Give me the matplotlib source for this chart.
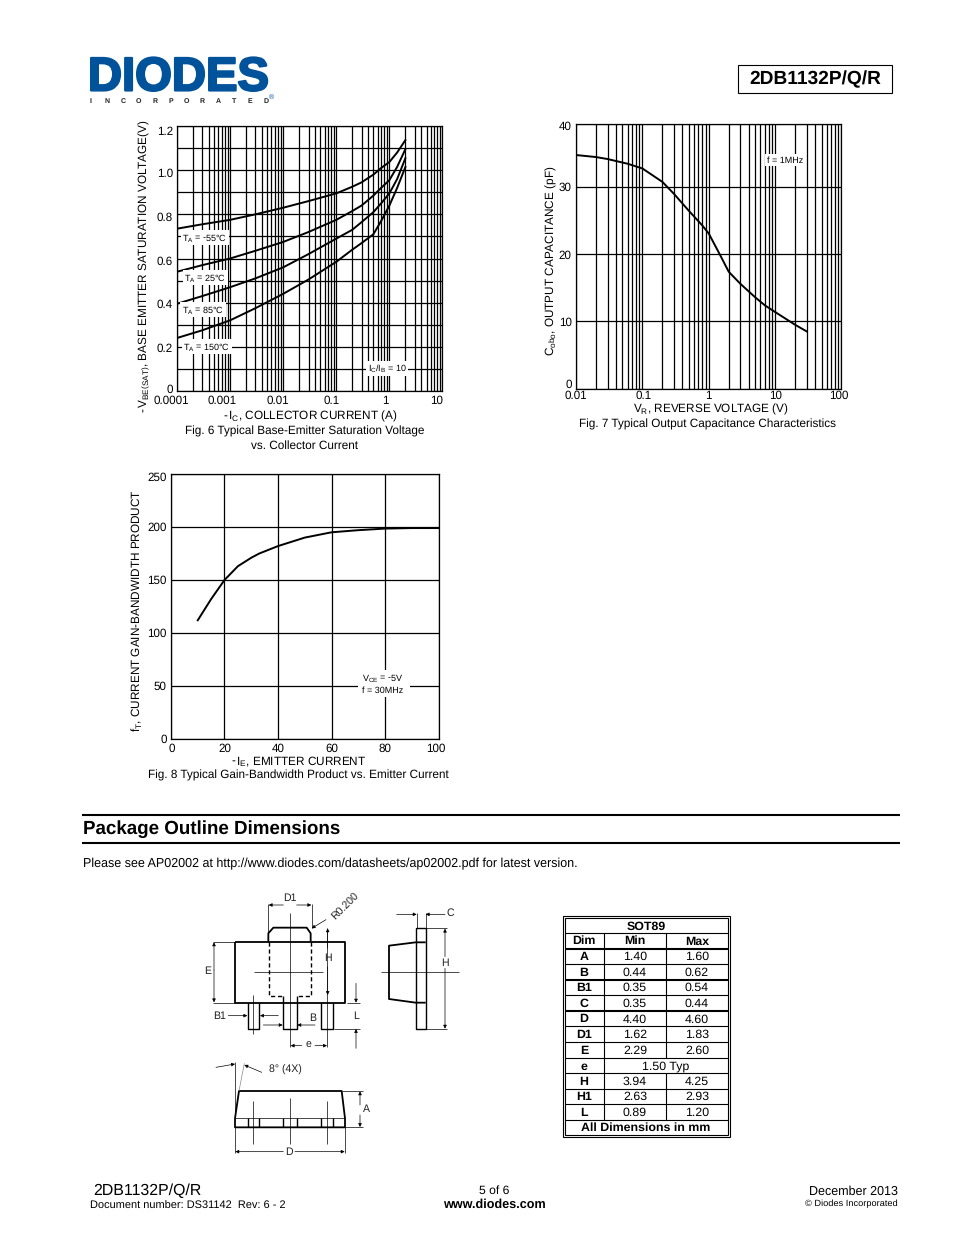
import matplotlib
matplotlib.use('Agg')
import matplotlib.pyplot as plt
import matplotlib.patheffects as pe
from matplotlib.transforms import ScaledTranslation

plt.rcParams['font.family'] = ['Liberation Sans', 'DejaVu Sans']
plt.rcParams['mathtext.fontset'] = 'custom'
plt.rcParams['mathtext.rm'] = 'Liberation Sans'
plt.rcParams['mathtext.it'] = 'Liberation Sans:italic'
plt.rcParams['mathtext.bf'] = 'Liberation Sans:bold'
plt.rcParams['mathtext.default'] = 'regular'
plt.rcParams['text.hinting'] = 'none'

W, H = 954, 1235

# Fig. 6 data
ic = [0.0001, 0.0003, 0.001, 0.003, 0.01, 0.03, 0.1, 0.2, 0.3, 0.5, 0.7, 1, 1.4, 2]
vbe_m55 = [0.735, 0.755, 0.775, 0.80, 0.83, 0.86, 0.895, 0.925, 0.945, 0.98, 1.01, 1.037, 1.08, 1.136]
vbe_25 = [0.54, 0.57, 0.60, 0.635, 0.675, 0.72, 0.775, 0.815, 0.84, 0.885, 0.92, 0.955, 1.015, 1.095]
vbe_85 = [0.395, 0.43, 0.47, 0.51, 0.56, 0.62, 0.69, 0.73, 0.765, 0.81, 0.85, 0.895, 0.96, 1.054]
vbe_150 = [0.24, 0.275, 0.32, 0.375, 0.44, 0.505, 0.585, 0.64, 0.67, 0.71, 0.77, 0.84, 0.92, 1.014]

# Fig. 7 data
vr = [0.01, 0.02, 0.03, 0.06, 0.1, 0.2, 0.3, 0.5, 0.8, 1, 1.5, 2, 3, 5, 7, 10, 20, 30]
cobo = [34.8, 34.5, 34.2, 33.5, 32.8, 30.8, 29, 26.5, 24.3, 23.1, 19.8, 17.4, 15.6, 13.6, 12.4, 11.4, 9.5, 8.5]

# Fig. 8 data
ie = [10, 15, 20, 25, 30, 33, 40, 50, 60, 70, 80, 90, 100]
ft = [112, 132, 150, 163, 171, 175, 182, 190, 195, 197, 198.5, 199, 199]

# SOT89 table
dims = ['A', 'B', 'B1', 'C', 'D', 'D1', 'E', 'e', 'H', 'H1', 'L']
mins = ['1.40', '0.44', '0.35', '0.35', '4.40', '1.62', '2.29', '', '3.94', '2.63', '0.89']
maxs = ['1.60', '0.62', '0.54', '0.44', '4.60', '1.83', '2.60', '', '4.25', '2.93', '1.20']

fig = plt.figure(figsize=(W / 100, H / 100), dpi=100, facecolor='white')


def make_axes(x0, y0, x1, y1):
    ax = fig.add_axes([x0 / W, 1 - y1 / H, (x1 - x0) / W, (y1 - y0) / H])
    for s in ax.spines.values():
        s.set_linewidth(0.9)
    ax.tick_params(which='both', length=0, labelsize=8.4, pad=3)
    ax.set_axisbelow(True)
    return ax


def shift_labels(labels, offs):
    # tick labels in the original sit a few pixels off their gridlines
    for lab, (dx, dy) in zip(labels, offs):
        lab.set_transform(lab.get_transform() + ScaledTranslation(dx / 100, dy / 100, fig.dpi_scale_trans))


# Fig. 6
ax1 = make_axes(177, 126, 442.5, 391)
ax1.set_xscale('log')
ax1.set_xlim(0.0001, 10)
ax1.set_ylim(0, 1.2)
ax1.set_xticks([0.0001, 0.001, 0.01, 0.1, 1, 10])
ax1.set_xticklabels(['0.0001', '0.001', '0.01', '0.1', '1', '10'])
ax1.set_xticks([m * 10.0 ** e for e in range(-4, 1) for m in range(2, 10)], minor=True)
ax1.set_xticklabels([], minor=True)
ax1.set_yticks([0, 0.2, 0.4, 0.6, 0.8, 1.0, 1.2])
ax1.set_yticklabels(['0', '0.2', '0.4', '0.6', '0.8', '1.0', '1.2'])
ax1.set_yticks([0.1, 0.3, 0.5, 0.7, 0.9, 1.1], minor=True)
ax1.grid(which='both', color='black', lw=0.9)
for v in (vbe_m55, vbe_25, vbe_85, vbe_150):
    ax1.plot(ic, v, color='black', lw=1.4)
shift_labels(ax1.get_xticklabels(), [(-6, 0), (-8, 0), (-5, 0), (-5, 0), (-4, 0), (-6, 0)])
shift_labels(ax1.get_yticklabels(), [(0, 2), (0, -1), (0, -1), (0, -2), (0, -2), (0, -2), (0, -5)])

# Fig. 7, its top gridline sits a little below where 40 would fall
ax2 = make_axes(576, 123.5, 841.5, 388.5)
ax2.set_xscale('log')
ax2.set_xlim(0.01, 100)
ax2.set_ylim(0, 39.5)
ax2.set_xticks([0.01, 0.1, 1, 10, 100])
ax2.set_xticklabels(['0.01', '0.1', '1', '10', '100'])
ax2.set_xticks([m * 10.0 ** e for e in range(-2, 2) for m in range(2, 10)], minor=True)
ax2.set_xticklabels([], minor=True)
ax2.set_yticks([0, 10, 20, 30, 39.5])
ax2.set_yticklabels(['0', '10', '20', '30', '40'])
ax2.grid(which='both', color='black', lw=0.9)
ax2.plot(vr, cobo, color='black', lw=1.4)
shift_labels(ax2.get_xticklabels(), [(0, 2), (1, 2), (0, 2), (0, 2), (-3, 2)])
shift_labels(ax2.get_yticklabels(), [(0, 5), (0, 0), (0, 0), (0, 1), (0, -2)])

# Fig. 8
ax3 = make_axes(171, 474, 438.5, 739)
ax3.set_xlim(0, 100)
ax3.set_ylim(0, 250)
ax3.set_xticks([0, 20, 40, 60, 80, 100])
ax3.set_yticks([0, 50, 100, 150, 200, 250])
ax3.grid(color='black', lw=0.9)
ax3.plot(ie, ft, color='black', lw=1.4)
shift_labels(ax3.get_xticklabels(), [(1, 0), (0, 0), (0, 0), (0, 0), (0, 0), (-3, 0)])
shift_labels(ax3.get_yticklabels(), [(0, 0), (0, 0), (0, 0), (0, 0), (0, 0), (0, -3)])

# page overlay, in pixel coordinates
pg = fig.add_axes([0, 0, 1, 1], zorder=10)
pg.set_xlim(0, W)
pg.set_ylim(H, 0)
pg.axis('off')
pg.patch.set_alpha(0)


def txt(x, y, s, size=8.45, ha='center', weight='normal', **kw):
    return pg.text(x, y + 0.8, s, fontsize=size, ha=ha, va='center', fontweight=weight, **kw)


def boxed(x, y, s, size=6.5):
    txt(x, y, s, size=size, bbox=dict(fc='white', ec='none', pad=1.2))


def line(xs, ys, lw=0.8, **kw):
    pg.plot(xs, ys, color=kw.pop('color', 'black'), lw=lw, solid_capstyle='butt', **kw)


# logo
BLUE = '#00529b'
logo = txt(178.5, 77.5, 'DIODES', size=34, weight='bold', color=BLUE)
logo.set_path_effects([pe.withStroke(linewidth=1.6, foreground=BLUE)])
for i, c in enumerate('INCORPORATED'):
    txt(91 + i * 15.9, 100.5, c, size=5, weight='bold', color='#222222')
txt(271, 96, '®', size=5, color=BLUE)

# part number box
pg.add_patch(plt.Rectangle((738, 65), 154, 28, fc='white', ec='black', lw=0.8))
txt(815, 78.5, '2DB1132P/Q/R', size=13.8, weight='bold')

# chart texts
txt(145, 265, r'-$\,$V$_{BE(SAT)}$, BASE EMITTER SATURATION VOLTAGE(V)', rotation=90)
txt(310, 415.5, r'-$\,$I$_{C}$, COLLECTOR CURRENT (A)')
txt(305, 431, 'Fig. 6 Typical Base-Emitter Saturation Voltage')
txt(305, 444.5, 'vs. Collector Current')
boxed(205, 237, r'T$_{A}$ = -55°C')
boxed(205.5, 277, r'T$_{A}$ = 25°C')
boxed(203, 309, r'T$_{A}$ = 85°C')
boxed(207, 346, r'T$_{A}$ = 150°C')
boxed(387, 368, r'I$_{C}$/I$_{B}$ = 10')

txt(551, 260, r'C$_{obo}$, OUTPUT CAPACITANCE (pF)', rotation=90)
txt(711, 408.5, r'V$_{R}$, REVERSE VOLTAGE (V)')
txt(708, 423.5, 'Fig. 7 Typical Output Capacitance Characteristics')
boxed(785, 159.5, 'f = 1MHz')

txt(137, 610, r'f$_{T}$, CURRENT GAIN-BANDWIDTH PRODUCT', rotation=90)
txt(299, 761, r'-$\,$I$_{E}$, EMITTER CURRENT')
txt(298, 774.5, 'Fig. 8 Typical Gain-Bandwidth Product vs. Emitter Current')
pg.add_patch(plt.Rectangle((358, 670), 52, 27, fc='white', ec='none'))
txt(383, 677.5, r'V$_{CE}$ = -5V', size=6.5)
txt(383, 689.5, 'f = 30MHz', size=6.5)

# section header
line([82, 900], [815, 815], lw=1.5)
line([82, 900], [842.5, 842.5], lw=1.5)
txt(83, 828.5, 'Package Outline Dimensions', size=13.5, ha='left', weight='bold')
txt(83, 863.5, 'Please see AP02002 at http://www.diodes.com/datasheets/ap02002.pdf for latest version.', ha='left', size=9)


# package drawing, coordinates measured from the crop at 3x around (190, 885)
def zx(x):
    return 190 + x / 3


def zy(y):
    return 885 + y / 3


def zl(pts, lw=0.5, **kw):
    line([zx(p[0]) for p in pts], [zy(p[1]) for p in pts], lw=lw, **kw)


def za(x0, y0, x1, y1):
    pg.annotate('', xy=(zx(x1), zy(y1)), xytext=(zx(x0), zy(y0)),
                arrowprops=dict(arrowstyle='-|>', lw=0.5, color='black', mutation_scale=5, shrinkA=0, shrinkB=0))


def zt(x, y, s, **kw):
    txt(zx(x), zy(y), s, size=kw.pop('size', 7.6), color='#222222', **kw)


THICK = 1.3
zl([(135, 170), (465, 170), (465, 353), (135, 353), (135, 170)], lw=THICK)
zl([(235, 170), (235, 145), (250, 128), (350, 128), (362, 145), (362, 170)], lw=THICK)
zl([(237, 170), (237, 333), (278, 333)], lw=1.0, ls=(0, (3, 2)))
zl([(362, 170), (362, 333), (320, 333)], lw=1.0, ls=(0, (3, 2)))
zl([(173, 353), (173, 432), (208, 432), (208, 353)], lw=1.0)
zl([(278, 333), (278, 432), (322, 432), (322, 333)], lw=1.0)
zl([(392, 353), (392, 432), (430, 432), (430, 353)], lw=1.0)
zl([(301, 85), (301, 485)])
zl([(192, 262), (400, 262)])
zl([(190, 330), (190, 448)])
zl([(412, 130), (412, 485)])
# E
zl([(68, 170), (135, 170)])
zl([(68, 353), (135, 353)])
za(72, 255, 72, 172)
za(72, 255, 72, 352)
zt(53, 255, 'E')
# D1
zl([(235, 58), (235, 170)])
zl([(365, 58), (365, 130)])
za(280, 60, 236, 60)
za(320, 60, 364, 60)
zt(300, 37, 'D1')
# R0.200
zt(465, 60, 'R0.200', rotation=45)
za(408, 104, 365, 130)
# H1
za(413, 190, 413, 130)
za(413, 245, 413, 330)
zt(413, 218, 'H')
# B1, B
zt(88, 390, 'B1')
za(115, 392, 172, 392)
za(265, 392, 210, 392)
zt(368, 397, 'B')
za(220, 420, 278, 420)
za(375, 420, 322, 420)
# L
zt(498, 390, 'L')
zl([(470, 353), (510, 353)])
zl([(432, 432), (510, 432)])
za(498, 295, 498, 353)
za(498, 490, 498, 432)
# e
zt(355, 477, 'e')
za(335, 482, 302, 482)
za(375, 482, 411, 482)
# side view
zl([(677, 128), (707, 128), (707, 432), (677, 432), (677, 128)], lw=1.0)
zl([(707, 172), (677, 172), (597, 182), (597, 342), (677, 353), (707, 353)], lw=THICK)
zl([(572, 262), (808, 262)])
zl([(680, 85), (680, 128)])
zl([(707, 85), (707, 128)])
za(620, 88, 680, 88)
za(765, 88, 707, 88)
zt(782, 82, 'C')
zl([(707, 130), (772, 130)])
zl([(707, 432), (772, 432)])
za(765, 215, 765, 131)
za(765, 250, 765, 431)
zt(765, 233, 'H')
# bottom view
zl([(135, 700), (147, 618), (455, 618), (465, 700), (465, 727), (135, 727), (135, 700)], lw=THICK)
zl([(135, 700), (465, 700)])
for x in (173, 208, 278, 322, 392, 430):
    zl([(x, 700), (x, 727)], lw=1.0)
for x, top in ((190, 648), (301, 640), (412, 648)):
    zl([(x, top), (x, 778)])
zl([(455, 618), (520, 618)])
zl([(465, 727), (520, 727)])
za(510, 660, 510, 619)
za(510, 690, 510, 726)
zt(528, 670, 'A')
zl([(135, 727), (135, 805)])
zl([(465, 727), (465, 805)])
za(280, 800, 136, 800)
za(315, 800, 464, 800)
zt(297, 800, 'D')
zl([(147, 618), (163, 535)], color='#888888')
zl([(135, 530), (135, 700)])
za(78, 547, 135, 537)
za(215, 562, 163, 540)
zt(287, 553, '8° (4X)')

# table
pg.add_patch(plt.Rectangle((563, 916), 167, 220.5, fc='white', ec='black', lw=0.8))
pg.add_patch(plt.Rectangle((565, 918), 163, 216.5, fc='white', ec='black', lw=0.8))
row_y = [933, 948.5, 964, 979.5, 995, 1011, 1026, 1042, 1058, 1073, 1088.5, 1104, 1119.5]
heavy = {948.5, 979.5, 1011}
for y in row_y:
    line([565, 728], [y, y], lw=1.5 if y in heavy else 0.8)
line([604, 604], [933, 1119.5])
line([666, 666], [933, 1058])
line([666, 666], [1073, 1119.5])
TS = 8.9
txt(646, 925.5, 'SOT89', size=TS, weight='bold')
txt(584, 940.5, 'Dim', size=TS, weight='bold')
txt(635, 940.5, 'Min', size=TS, weight='bold')
txt(697, 940.5, 'Max', size=TS, weight='bold')
for i, d in enumerate(dims):
    yc = (row_y[i + 1] + row_y[i + 2]) / 2
    txt(584, yc, d, size=TS, weight='bold')
    if mins[i]:
        txt(635, yc, mins[i], size=TS)
        txt(697, yc, maxs[i], size=TS)
    else:
        txt(666, yc, '1.50 Typ', size=TS)
txt(646, 1126.5, 'All Dimensions in mm', size=TS, weight='bold')

# footer
txt(93, 1190, '2DB1132P/Q/R', size=11.4, ha='left')
txt(90, 1205.5, 'Document number: DS31142  Rev: 6 - 2', size=7.9, ha='left')
txt(494, 1189.5, '5 of 6', size=8.7)
txt(494, 1203.5, 'www.diodes.com', size=9.1, weight='bold')
txt(898, 1190.5, 'December 2013', size=9, ha='right')
txt(898, 1203.5, '© Diodes Incorporated', size=6.7, ha='right')

fig.savefig('out.png', dpi=100)
